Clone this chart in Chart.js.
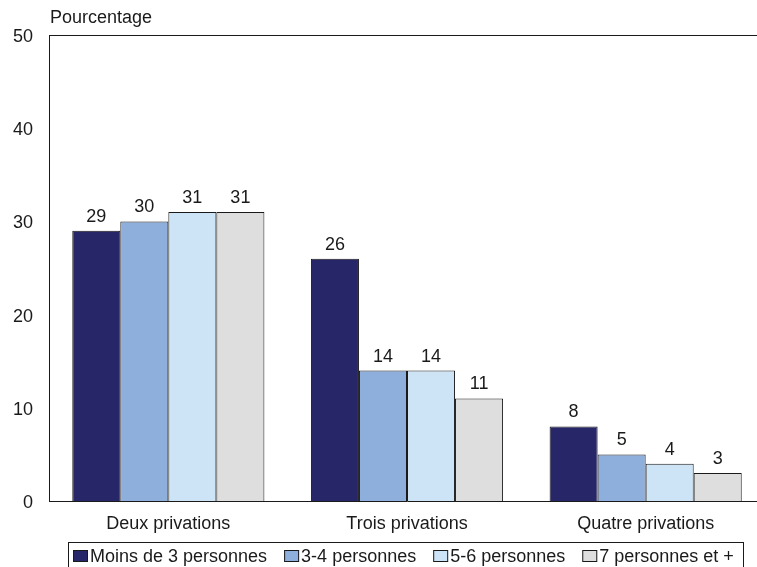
<!DOCTYPE html>
<html>
<head>
<meta charset="utf-8">
<script src="https://cdn.jsdelivr.net/npm/chart.js@4.4.1/dist/chart.umd.min.js"></script>
<style>
html, body { margin: 0; padding: 0; overflow: hidden; background: #fff; width: 757px; height: 567px; }
#wrap { width: 800px; height: 567px; }
</style>
</head>
<body>
<div id="wrap"><canvas id="c" width="800" height="567"></canvas></div>
<script>
const categories = ["Deux privations", "Trois privations", "Quatre privations"];
const seriesNames = ["Moins de 3 personnes", "3-4 personnes", "5-6 personnes", "7 personnes et +"];
const moins3 = [29, 26, 8];
const p34 = [30, 14, 5];
const p56 = [31, 14, 4];
const p7plus = [31, 11, 3];
const yTicks = [0, 10, 20, 30, 40, 50];
const yTitle = "Pourcentage";

const colors = ["#272668", "#8eaedb", "#cde3f6", "#dedede"];
const FONT = '"Liberation Sans", Arial, sans-serif';
const INK = "#1a1a1a";

const seriesValues = [moins3, p34, p56, p7plus];

const decorPlugin = {
  id: "decor",
  afterDatasetsDraw(chart) {
    const ctx = chart.ctx;
    ctx.save();
    ctx.font = "18px " + FONT;
    ctx.fillStyle = INK;
    ctx.textAlign = "center";
    ctx.textBaseline = "alphabetic";
    chart.data.datasets.forEach((ds, i) => {
      const meta = chart.getDatasetMeta(i);
      meta.data.forEach((bar, j) => {
        ctx.fillText(String(ds.data[j]), bar.x, bar.y - 9);
      });
    });
    ctx.restore();
  },
  afterDraw(chart) {
    const ctx = chart.ctx;
    const a = chart.chartArea;
    ctx.save();
    // top frame line
    ctx.strokeStyle = INK;
    ctx.lineWidth = 1;
    ctx.beginPath();
    ctx.moveTo(a.left, Math.round(a.top) + 0.5);
    ctx.lineTo(a.right, Math.round(a.top) + 0.5);
    ctx.stroke();
    // y axis title
    ctx.font = "18px " + FONT;
    ctx.fillStyle = INK;
    ctx.textAlign = "left";
    ctx.textBaseline = "alphabetic";
    ctx.fillText(yTitle, 50, 23);
    // legend
    ctx.strokeStyle = INK;
    ctx.strokeRect(68.5, 542.5, 675, 40);
    let x = 73;
    chart.data.datasets.forEach((ds, i) => {
      ctx.fillStyle = ds.backgroundColor;
      ctx.fillRect(x, 550, 15, 12);
      ctx.strokeStyle = INK;
      ctx.strokeRect(x + 0.5, 550.5, 14, 11);
      ctx.fillStyle = INK;
      ctx.fillText(ds.label, x + 17, 562);
      x += 17 + ctx.measureText(ds.label).width + 17;
    });
    ctx.restore();
  }
};

new Chart(document.getElementById("c"), {
  type: "bar",
  data: {
    labels: categories,
    datasets: seriesNames.map((name, i) => ({
      label: name,
      data: seriesValues[i],
      backgroundColor: colors[i],
      borderColor: INK,
      borderWidth: 1,
      categoryPercentage: 0.805,
      barPercentage: 1.0
    }))
  },
  options: {
    responsive: false,
    animation: false,
    devicePixelRatio: 1,
    layout: { padding: { top: 35, right: 35, left: 0, bottom: 0 } },
    plugins: { legend: { display: false }, tooltip: { enabled: false } },
    scales: {
      x: {
        grid: { display: false, drawTicks: false },
        border: { display: true, color: INK, width: 1 },
        ticks: { font: { size: 18, family: FONT }, color: INK, padding: 12, maxRotation: 0 },
        afterFit(s) { s.height = 66; }
      },
      y: {
        min: 0, max: 50,
        grid: { display: false, drawTicks: false },
        border: { display: true, color: INK, width: 1 },
        afterBuildTicks(s) { s.ticks = yTicks.map(v => ({ value: v })); },
        ticks: { font: { size: 18, family: FONT }, color: INK, padding: 16, labelOffset: 2 },
        afterFit(s) { s.width = 49; }
      }
    }
  },
  plugins: [decorPlugin]
});
</script>
</body>
</html>
